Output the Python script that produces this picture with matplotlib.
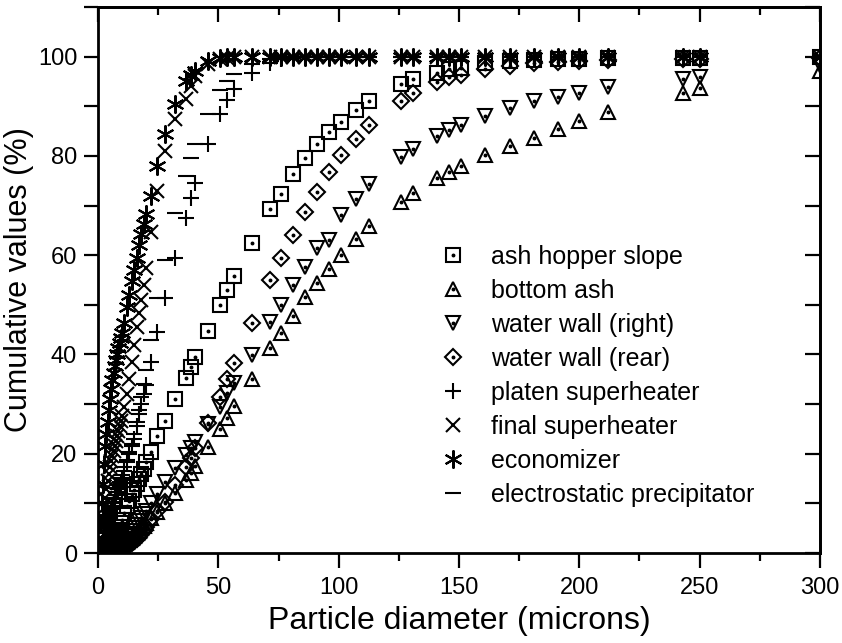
import numpy as np
import matplotlib
matplotlib.use('Agg')
import matplotlib.pyplot as plt
from matplotlib.ticker import MultipleLocator

# Diâmetros comuns a todas as séries (microns)
diametro = [1.0, 1.5, 2.0, 2.5, 3.0, 3.5, 4.0, 4.5, 5.0, 5.5, 6.0, 6.5, 7.0, 7.5, 8.0, 8.5, 9.0, 9.5, 10.0,
            11, 12, 13, 14, 15, 16, 17, 18, 19, 20,
            22, 24.5, 28, 32, 36.5, 38.5, 40.5, 45.5, 50.5, 53.5, 56.5,
            64, 71.5, 76, 81, 86, 91, 96, 101, 107, 112.5,
            126, 131, 141, 146, 151, 161, 171, 181, 191, 200, 212, 243, 250, 300]

ash_hopper = [0.1, 0.2, 0.3, 0.5, 0.7, 0.9, 1.1, 1.4, 1.7, 2.0, 2.4, 2.8, 3.2, 3.7, 4.2, 4.7, 5.3, 6.0, 6.6,
              8.0, 9.5, 10.5, 11.8, 12.7, 14.0, 15.0, 16.0, 17.0, 18.3,
              20.3, 23.5, 26.6, 31.0, 35.2, 37.4, 39.4, 44.7, 49.9, 52.9, 55.9,
              62.4, 69.4, 72.4, 76.3, 79.5, 82.3, 84.9, 86.9, 89.3, 91.1,
              94.4, 95.4, 96.8, 97.6, 97.8, 98.8, 99.2, 99.4, 99.5, 99.6, 99.7, 99.8, 99.8, 99.9]

bottom_ash = [0.05, 0.1, 0.15, 0.2, 0.25, 0.3, 0.4, 0.45, 0.5, 0.6, 0.7, 0.8, 0.9, 1.0, 1.1, 1.25, 1.4, 1.5, 1.7,
              2.0, 2.3, 2.7, 3.1, 3.5, 4.0, 4.5, 5.0, 5.5, 6.0,
              7.0, 8.3, 10.0, 12.1, 14.7, 16.1, 17.5, 21.3, 24.9, 27.2, 29.6,
              35.0, 41.2, 44.3, 47.7, 51.5, 54.3, 57.3, 60.0, 63.2, 65.8,
              70.8, 72.6, 75.5, 76.7, 77.9, 80.1, 81.9, 83.7, 85.5, 87.1, 88.9, 92.6, 93.6, 97.2]

water_right = [0.1, 0.15, 0.2, 0.3, 0.35, 0.45, 0.55, 0.65, 0.75, 0.9, 1.0, 1.15, 1.3, 1.45, 1.6, 1.8, 2.0, 2.2, 2.4,
               2.9, 3.4, 3.9, 4.5, 5.1, 5.7, 6.4, 7.1, 7.8, 8.5,
               10.0, 11.8, 14.3, 17.1, 19.7, 21.1, 22.3, 26.0, 29.4, 32.2, 34.2,
               39.8, 46.5, 50.0, 53.9, 57.7, 61.4, 63.0, 68.0, 71.4, 74.4,
               79.7, 81.3, 84.1, 85.3, 86.3, 88.1, 89.7, 91.1, 91.8, 92.6, 93.8, 95.4, 95.8, 98.4]

water_rear = [0.05, 0.07, 0.1, 0.12, 0.15, 0.18, 0.22, 0.26, 0.3, 0.35, 0.4, 0.45, 0.5, 0.56, 0.62, 0.7, 0.78, 0.86, 0.95,
              1.15, 1.35, 1.6, 1.95, 2.35, 2.8, 3.3, 3.8, 4.5, 5.3,
              6.8, 8.4, 10.3, 13.7, 17.3, 19.1, 21.1, 26.2, 31.4, 35.0, 38.2,
              46.3, 54.9, 59.4, 64.0, 68.6, 72.8, 76.7, 80.1, 83.5, 86.3,
              91.1, 92.6, 94.8, 95.8, 96.4, 97.6, 98.2, 98.8, 99.0, 99.2, 99.4, 99.6, 99.6, 99.8]

platen = [1.0, 2.0, 3.0, 4.0, 5.0, 5.8, 6.5, 7.2, 8.0, 8.8, 9.5, 10.2, 11.0, 11.6, 12.3, 12.9, 13.5, 14.2, 14.8,
          16.5, 18.3, 20.0, 21.5, 23.0, 25.5, 28.0, 30.0, 32.0, 33.8,
          38.4, 44.5, 51.3, 59.4, 67.4, 71.6, 74.6, 82.5, 88.5, 91.3, 93.4,
          96.8, 98.8, 99.5, 99.8, 100, 100, 100, 100, 100, 100,
          100, 100, 100, 100, 100, 100, 100, 100, 100, 100, 100, 100, 100, 100]

final_sh = [3.0, 5.0, 7.0, 9.0, 11.0, 12.8, 14.5, 16.0, 17.3, 18.5, 19.6, 20.6, 21.6, 22.6, 23.6, 24.6, 25.6, 26.6, 27.6,
            29.5, 32.0, 35.0, 38.4, 42.0, 45.5, 48.3, 51.0, 54.0, 57.5,
            64.6, 73.0, 81.0, 87.5, 91.5, 94.0, 96.0, 98.5, 99.5, 99.8, 100,
            100, 100, 100, 100, 100, 100, 100, 100, 100, 100,
            100, 100, 100, 100, 100, 100, 100, 100, 100, 100, 100, 100, 100, 100]

economizer = [6.0, 10.0, 14.0, 18.0, 21.5, 24.0, 26.4, 28.8, 31.0, 33.0, 34.8, 36.3, 37.6, 38.8, 40.0, 41.2, 42.3, 43.3, 44.3,
              46.3, 49.5, 52.0, 54.8, 57.0, 59.5, 62.0, 64.2, 66.2, 68.2,
              72.0, 78.0, 84.5, 90.5, 95.0, 96.2, 97.2, 99.2, 99.7, 99.9, 100,
              100, 100, 100, 100, 100, 100, 100, 100, 100, 100,
              100, 100, 100, 100, 100, 100, 100, 100, 100, 100, 100, 100, 100, 100]

precipitator = [1.2, 2.2, 3.2, 4.2, 5.2, 6.0, 6.8, 7.6, 8.5, 9.3, 10.0, 10.8, 11.6, 12.3, 13.0, 13.7, 14.4, 15.1, 15.8,
                17.3, 18.8, 20.3, 22.0, 24.0, 26.3, 28.8, 31.5, 34.0, 36.8,
                42.9, 51.3, 59.0, 68.4, 76.0, 79.5, 82.5, 88.5, 93.2, 95.0, 96.6,
                98.5, 99.5, 100, 100, 100, 100, 100, 100, 100, 100,
                100, 100, 100, 100, 100, 100, 100, 100, 100, 100, 100, 100, 100, 100]

series = [
    ('ash hopper slope', ash_hopper, 's', 9.5, True),
    ('bottom ash', bottom_ash, '^', 10.5, True),
    ('water wall (right)', water_right, 'v', 10.5, True),
    ('water wall (rear)', water_rear, 'D', 8.5, True),
    ('platen superheater', platen, '+', 12, False),
    ('final superheater', final_sh, 'x', 10.5, False),
    ('economizer', economizer, (6, 2, 0), 13, False),
    ('electrostatic precipitator', precipitator, '_', 12, False),
]

FONTE = ['Liberation Sans', 'DejaVu Sans']

fig = plt.figure(figsize=(8.42, 6.43), dpi=100)
ax = fig.add_axes([98 / 842, 1 - 553 / 643, (820 - 98) / 842, (553 - 7) / 643])

handles = []
for nome, y, marca, tam, ponto in series:
    linha, = ax.plot(diametro, y, linestyle='none', marker=marca, markersize=tam,
                     markerfacecolor='none', markeredgecolor='black', markeredgewidth=1.5)
    if ponto:
        dot, = ax.plot(diametro, y, linestyle='none', marker='o', markersize=1.8,
                       markerfacecolor='black', markeredgecolor='black')
        handles.append((linha, dot))
    else:
        handles.append(linha)

ax.set_xlim(0, 300)
ax.set_ylim(0, 110)
ax.set_xticks(np.arange(0, 301, 50))
ax.set_yticks(np.arange(0, 101, 20))
ax.xaxis.set_minor_locator(MultipleLocator(25))
ax.yaxis.set_minor_locator(MultipleLocator(10))
ax.tick_params(axis='x', which='major', direction='out', length=11, width=1.6, pad=6)
ax.tick_params(axis='x', which='minor', direction='out', length=6, width=1.6)
ax.tick_params(axis='y', which='both', direction='out', length=10, width=1.6, pad=5)
for lab in ax.get_xticklabels() + ax.get_yticklabels():
    lab.set_family(FONTE)
    lab.set_fontsize(17)

top = ax.secondary_xaxis('top')
top.set_xticks(np.arange(0, 301, 50))
top.xaxis.set_minor_locator(MultipleLocator(25))
top.tick_params(axis='x', which='major', direction='in', length=11, width=1.6, labeltop=False)
top.tick_params(axis='x', which='minor', direction='in', length=6, width=1.6)

right = ax.secondary_yaxis('right')
right.set_yticks(np.arange(0, 101, 20))
right.yaxis.set_minor_locator(MultipleLocator(10))
right.tick_params(axis='y', which='both', direction='in', length=11, width=1.6, labelright=False)

for sp in list(ax.spines.values()) + list(top.spines.values()) + list(right.spines.values()):
    sp.set_linewidth(2)

ax.set_xlabel('Particle diameter (microns)', family=FONTE, fontsize=23, labelpad=5)
ax.set_ylabel('Cumulative values (%)', family=FONTE, fontsize=22, labelpad=3)

ax.legend(handles, [s[0] for s in series], loc='upper left', bbox_to_anchor=(0.471, 0.565),
          frameon=False, prop={'family': FONTE, 'size': 18}, handlelength=1.2,
          handletextpad=0.9, labelspacing=0.40, borderaxespad=0, borderpad=0)

fig.savefig('out.png', dpi=100)
